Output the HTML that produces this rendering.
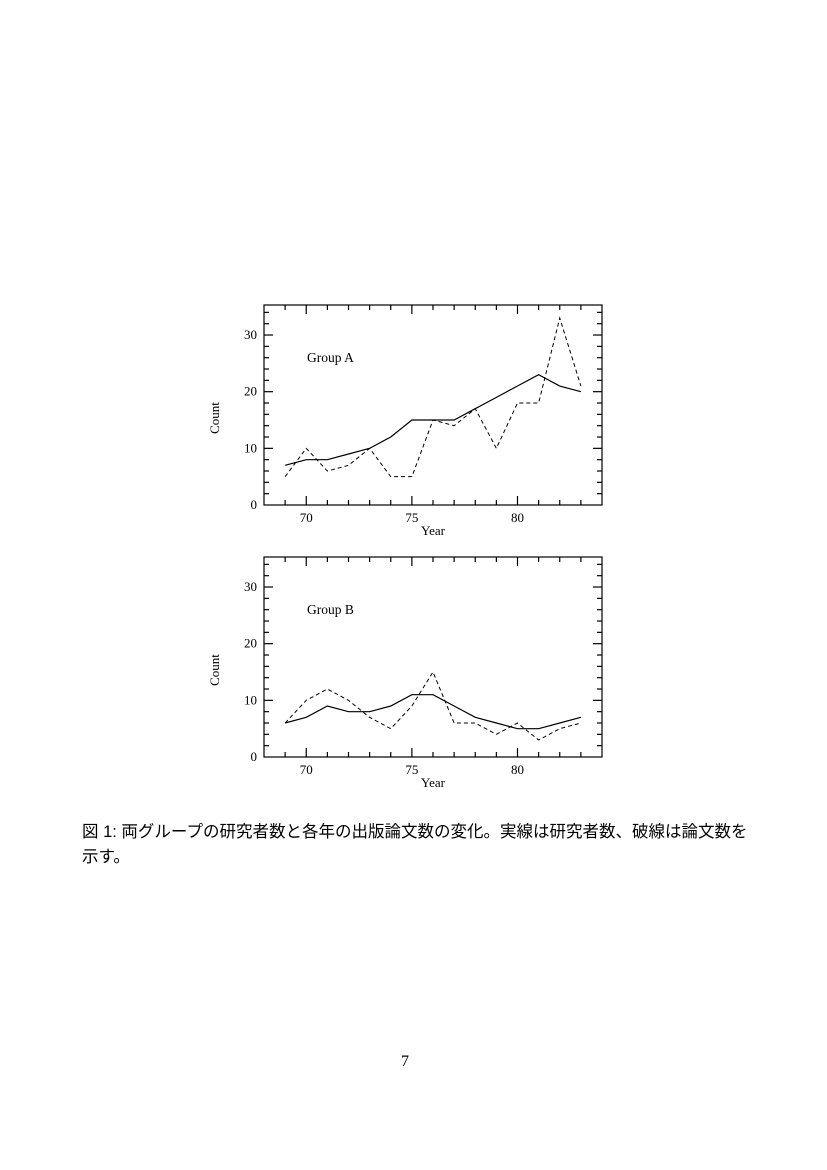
<!DOCTYPE html>
<html><head><meta charset="utf-8"><style>
body{margin:0;width:827px;height:1170px;background:#fff;position:relative;overflow:hidden}
svg{position:absolute;left:0;top:0}
.cap{position:absolute;left:82px;top:820px;width:668px;font:16.5px "Liberation Sans","Noto Sans CJK JP",sans-serif;line-height:25px;color:#000}
.pg{position:absolute;left:401px;top:1053px;font:16px "Liberation Serif",serif}
</style></head><body>
<svg id="chart" width="827" height="1170"></svg>
<div class="cap">図 1: 両グループの研究者数と各年の出版論文数の変化。実線は研究者数、破線は論文数を示す。</div>
<div class="pg">7</div>
<script>
const years=[69,70,71,72,73,74,75,76,77,78,79,80,81,82,83];
const groupAResearchers=[7,8,8,9,10,12,15,15,15,17,19,21,23,21,20];
const groupAPapers=[5,10,6,7,10,5,5,15,14,17,10,18,18,33,21];
const groupBResearchers=[6,7,9,8,8,9,11,11,9,7,6,5,5,6,7];
const groupBPapers=[6,10,12,10,7,5,9,15,6,6,4,6,3,5,6];
const xTickLabels=[70,75,80];
const yTickLabels=[0,10,20,30];
const NS="http://www.w3.org/2000/svg";
const svg=document.getElementById('chart');
function mk(t,a,p){const e=document.createElementNS(NS,t);for(const k in a)e.setAttribute(k,a[k]);(p||svg).appendChild(e);return e;}
function panel(top,title,solid,dashed,key){
  const L=264,R=602,T=top,B=top+200;
  const xs=v=>L+(v-68)*(R-L)/16, ys=v=>B-v*(B-T)/35.3;
  const g=mk('g',{});
  
  
  const fr=mk('rect',{x:L,y:T,width:R-L,height:B-T,fill:'none',stroke:'#000','stroke-width':1.2},g);
  
  
  for(let y=69;y<=83;y++){const len=y%5==0?9:5;
    mk('line',{x1:xs(y),x2:xs(y),y1:B,y2:B-len,stroke:'#000','stroke-width':1.2},g);
    mk('line',{x1:xs(y),x2:xs(y),y1:T,y2:T+len,stroke:'#000','stroke-width':1.2},g);}
  for(let v=2;v<=34;v+=2){const len=v%10==0?9:5;
    mk('line',{x1:L,x2:L+len,y1:ys(v),y2:ys(v),stroke:'#000','stroke-width':1.2},g);
    mk('line',{x1:R,x2:R-len,y1:ys(v),y2:ys(v),stroke:'#000','stroke-width':1.2},g);}
  const f='font-family:"Liberation Serif",serif;font-size:13px';
  xTickLabels.forEach(v=>{const t=mk('text',{x:xs(v),y:B+17,'text-anchor':'middle',style:f},g);t.textContent=v;
    
    });
  yTickLabels.forEach(v=>{const t=mk('text',{x:L-7,y:ys(v)+4,'text-anchor':'end',style:f},g);t.textContent=v;
    
    });
  const xt=mk('text',{x:433,y:B+30,'text-anchor':'middle',style:'font-family:"Liberation Serif",serif;font-size:13px'},g);xt.textContent='Year';
  
  
  const yt=mk('text',{x:0,y:0,'text-anchor':'middle',transform:`translate(219,${T+113}) rotate(-90)`,style:'font-family:"Liberation Serif",serif;font-size:13px'},g);yt.textContent='Count';
  
  
  const tt=mk('text',{x:307,y:T+57,style:'font-family:"Liberation Serif",serif;font-size:13.5px'},g);tt.textContent=title;
  
  
  const s=mk('polyline',{points:years.map((y,i)=>xs(y)+','+ys(solid[i])).join(' '),fill:'none',stroke:'#000','stroke-width':1.2},g);
  
  
  const d=mk('polyline',{points:years.map((y,i)=>xs(y)+','+ys(dashed[i])).join(' '),fill:'none',stroke:'#000','stroke-width':1,'stroke-dasharray':'4,3'},g);
  
  
}
panel(305,'Group A',groupAResearchers,groupAPapers,'group-a');
panel(557,'Group B',groupBResearchers,groupBPapers,'group-b');
</script>
</body></html>
